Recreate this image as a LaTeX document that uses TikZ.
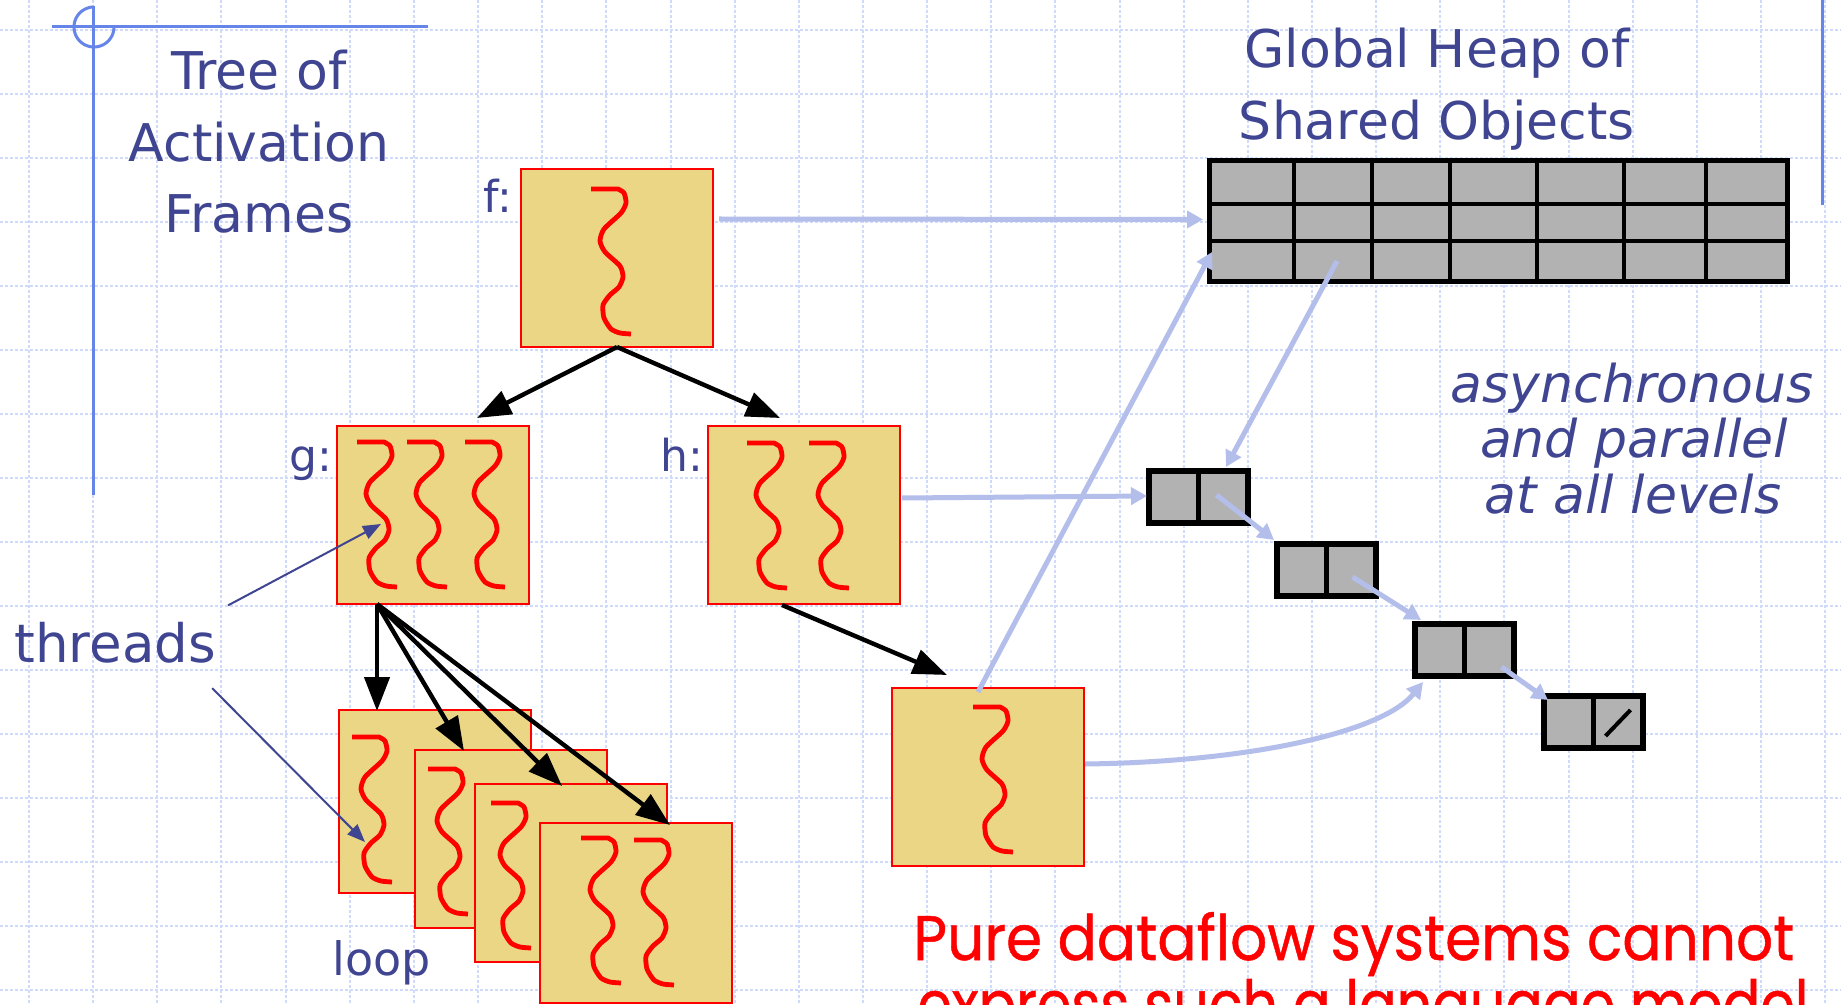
\documentclass[tikz,border=0pt]{standalone}
\usepackage{fontspec}
\setmainfont{DejaVu Sans}
\newfontfamily\handfont{Poppins}[UprightFeatures={FakeBold=0.8}]
\usetikzlibrary{arrows.meta,calc}

\definecolor{frameyellow}{RGB}{234,214,132}
\definecolor{heapgray}{RGB}{178,178,178}
\definecolor{refblue}{RGB}{180,190,235}
\definecolor{inkblue}{RGB}{63,69,145}
\definecolor{guideblue}{RGB}{102,133,232}
\definecolor{gridblue}{RGB}{208,218,250}

\tikzset{
  actframe/.style={draw=red, fill=frameyellow, line width=1pt, rectangle,
    inner sep=0pt, outer sep=0pt, anchor=north west,
    minimum width=96pt, minimum height=89pt},
  threadline/.style={draw=red, line width=2.4pt, line join=round},
  thread/.pic={
    \draw[threadline] (0,0) -- plot[smooth, tension=0.4] coordinates {
      (27,0) (33,4) (35,14) (30,24) (13,40) (9,52) (14,63) (29,77)
      (32,88) (28,98) (19,106) (12,116) (13,129) (20,140) (29,144) (40,145)};
  },
  treeedge/.style={line width=2.2pt, -{Triangle[length=17pt,width=12.5pt]}},
  heapref/.style={draw=refblue, line width=2.5pt, -{Triangle[length=8pt,width=8.5pt]}},
  threadptr/.style={draw=inkblue, line width=1pt, -{Triangle[length=9pt,width=7pt]}},
  heapbox/.style={draw=black, fill=heapgray, line width=2.5pt, rectangle,
    inner sep=0pt, outer sep=0pt, anchor=north west},
  heapgrid/.style={line width=2.2pt},
  cellbox/.style={draw=black, fill=heapgray, line width=2.7pt, rectangle,
    inner sep=0pt, outer sep=0pt, anchor=north west,
    minimum width=49.5pt, minimum height=26pt},
  cellline/.style={line width=2.5pt},
  lbl/.style={text=inkblue, inner sep=0pt},
  headtext/.style={lbl, anchor=base, font=\fontsize{26}{36}\selectfont},
  slanttext/.style={lbl, anchor=base, font=\fontsize{26}{28}\selectfont\itshape},
  smalltext/.style={lbl, font=\fontsize{22}{26}\selectfont},
  gridline/.style={draw=gridblue, line width=1pt, dash pattern=on 1.5pt off 1pt},
  guide/.style={draw=guideblue, line width=1.5pt},
  warn/.style={text=red, inner sep=0pt, anchor=base west}
}

\begin{document}
\begin{tikzpicture}[x=0.5pt,y=-0.5pt]
\useasboundingbox (0,0) rectangle (1841,1005);
\clip (0,0) rectangle (1841,1005);
\fill[white] (0,0) rectangle (1841,1005);

% notebook grid
\foreach \i in {0,...,28}
  \draw[gridline] ({29+64.15*\i},0) -- ({29+64.15*\i},1005);
\foreach \j in {0,...,15}
  \draw[gridline] (0,{30+64*\j}) -- (1841,{30+64*\j});

% margin rules
\draw[guide] (93,6) -- (93,495);
\draw[guide] (52,27) -- (428,27);
\draw[guide] plot[domain=0:270, samples=60] ({94+20*cos(\x)},{27+20*sin(\x)});
\draw[guide] (1822,0) -- (1822,205);

% headings
\node[headtext] (tree1) at (259,90) {Tree of};
\node[headtext] (tree2) at (259,162) {Activation};
\node[headtext] (tree3) at (259,233) {Frames};
\node[headtext] (heap1) at (1437,68) {Global Heap of};
\node[headtext] (heap2) at (1437,140) {Shared Objects};
\node[slanttext] (async1) at (1632,402) {asynchronous};
\node[slanttext] (async2) at (1634,458) {and parallel};
\node[slanttext] (async3) at (1633,513) {at all levels};

% activation frames
\node[actframe] (f) at (521,169) {};
\pic at ($(f.north west)+(70,20)$) {thread};
\node[actframe] (g) at (337,426) {};
\pic at ($(g.north west)+(20,16)$) {thread};
\pic at ($(g.north west)+(70,16)$) {thread};
\pic at ($(g.north west)+(128,16)$) {thread};
\node[actframe] (h) at (708,426) {};
\pic at ($(h.north west)+(39,17)$) {thread};
\pic at ($(h.north west)+(101,17)$) {thread};
\node[actframe] (k) at (892,688) {};
\pic at ($(k.north west)+(81,19)$) {thread};

% loop iterations
\node[actframe, minimum height=91.5pt] (l1) at (339,710) {};
\pic at ($(l1.north west)+(13,27)$) {thread};
\node[actframe] (l2) at (415,750) {};
\pic at ($(l2.north west)+(13,19)$) {thread};
\node[actframe] (l3) at (475,784) {};
\pic at ($(l3.north west)+(16,19)$) {thread};
\node[actframe, minimum height=90pt] (l4) at (540,823) {};
\pic at ($(l4.north west)+(41,15)$) {thread};
\pic at ($(l4.north west)+(94,17)$) {thread};

% frame labels
\node[smalltext, anchor=base east] (flbl) at (513,213) {f:};
\node[smalltext, anchor=base east] (glbl) at (333,471) {g:};
\node[smalltext, anchor=base east] (hlbl) at (704,471) {h:};
\node[lbl, anchor=base west, font=\fontsize{23}{27}\selectfont] (looplbl) at (332,975) {loop};
\node[lbl, anchor=base west, font=\fontsize{26.5}{30}\selectfont] (threads) at (14,662) {threads};

% tree of calls
\draw[treeedge] (f.south) -- ($(g.north)+(44,-8)$);
\draw[treeedge] (f.south) -- ($(h.north)+(-24,-8)$);
\coordinate (gfork) at ($(g.south west)+(40,0)$);
\draw[treeedge] (gfork) -- ($(l1.north west)+(38,1)$);
\draw[treeedge] (gfork) -- ($(l2.north west)+(49,1)$);
\draw[treeedge] (gfork) -- ($(l3.north west)+(87,2)$);
\draw[treeedge] (gfork) -- ($(l4.north west)+(130,2)$);
\draw[treeedge] ($(h.south)+(-22,1)$) -- ($(k.north)+(-41,-13)$);

% thread pointers
\draw[threadptr] ($(threads.north east)+(12,-16)$) -- ($(g.north west)+(44,98)$);
\draw[threadptr] ($(threads.south east)+(-4,25)$) -- ($(l1.north west)+(26,132)$);

% shared heap
\node[heapbox, minimum width=289pt, minimum height=60.5pt] (heap) at (1209,161) {};
\foreach \x in {1294,1372,1450,1537,1624,1706}
  \draw[heapgrid] (\x,161) -- (\x,282);
\foreach \y in {204,241}
  \draw[heapgrid] (1209,\y) -- (1787,\y);

% linked list cells
\node[cellbox] (c1) at (1149,471) {};
\draw[cellline] (c1.north) -- (c1.south);
\node[cellbox] (c2) at (1277,544) {};
\draw[cellline] (c2.north) -- (c2.south);
\node[cellbox] (c3) at (1415,624) {};
\draw[cellline] (c3.north) -- (c3.south);
\node[cellbox] (c4) at (1544,696) {};
\draw[cellline] (c4.north) -- (c4.south);
\draw[line width=2pt] ($(c4.center)+(12,14)$) -- ($(c4.center)+(37,-12)$);

% references into the heap
\draw[heapref] ($(f.east)+(6,-39)$) -- ($(heap.west)+(-6,-2)$);
\draw[heapref] ($(k.north)+(-10,4)$) -- ($(heap.south west)+(3,-30)$);
\draw[heapref] ($(heap.south west)+(128,-21)$) -- ($(c1.north east)+(-22,-4)$);
\draw[heapref] ($(h.east)+(2,-17)$) -- ($(c1.west)+(-2,-1)$);
\draw[heapref] ($(c1.center)+(18,-2)$) -- ($(c2.north west)+(-3,-4)$);
\draw[heapref] ($(c2.center)+(26,7)$) -- ($(c3.north west)+(6,-4)$);
\draw[heapref] ($(c3.center)+(37,17)$) -- ($(c4.north west)+(4,4)$);
\draw[heapref] ($(k.east)+(1,-13)$) .. controls +(165,-2) and +(-40,50) .. ($(c3.south west)+(8,6)$);

% closing remark
\node[warn] (msg1) at (913,960) {\resizebox{440.5pt}{24pt}{\handfont Pure dataflow systems cannot}};
\node[warn] (msg2) at (917,1027) {\resizebox{445.5pt}{24pt}{\handfont express such a language model}};
\end{tikzpicture}
\end{document}
